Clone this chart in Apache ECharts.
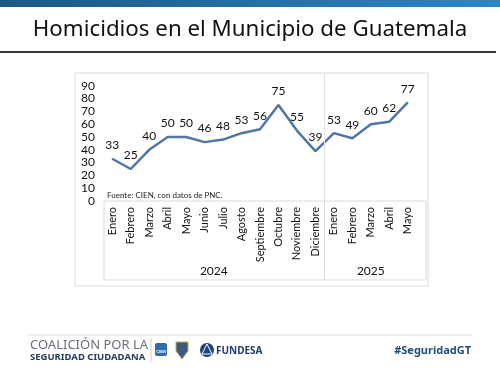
<!DOCTYPE html>
<html>
<head>
<meta charset="utf-8">
<script src="https://cdn.jsdelivr.net/npm/echarts@6/dist/echarts.min.js"></script>
<style>
  html, body { margin: 0; padding: 0; background: #fff; }
  #chart { width: 500px; height: 375px; }
</style>
</head>
<body>
<div id="chart"></div>
<script>
// datos
var months = ['Enero','Febrero','Marzo','Abril','Mayo','Junio','Julio','Agosto','Septiembre','Octubre','Noviembre','Diciembre',
              'Enero','Febrero','Marzo','Abril','Mayo'];
var homicidios = [33, 25, 40, 50, 50, 46, 48, 53, 56, 75, 55, 39,
                  53, 49, 60, 62, 77];
var years = ['2024', '2025'];
var yearCounts = [12, 5];

// centros de cada grupo de anios (en unidades de categoria)
var yearCenters = [];
var acc = 0;
yearCounts.forEach(function (n) { yearCenters.push(acc + n / 2); acc += n; });
var divIndex = yearCounts[0];

var chart = echarts.init(document.getElementById('chart'));
var font = 'Lato, "Noto Sans", sans-serif';

var option = {
  animation: false,
  backgroundColor: '#fff',
  grid: { left: 103, right: 83, top: 73, bottom: 174 },
  xAxis: [{
    type: 'category',
    data: months,
    boundaryGap: true,
    axisLine: { show: false },
    axisTick: { show: false },
    splitLine: { show: false },
    axisLabel: {
      interval: 0,
      rotate: 90,
      margin: 6,
      color: '#111',
      fontSize: 11,
      fontFamily: font
    }
  }, {
    // eje de anios (mismo rango que las categorias)
    type: 'value',
    min: 0,
    max: months.length,
    position: 'bottom',
    offset: 0,
    axisLine: { show: false },
    axisTick: {
      show: true,
      customValues: [divIndex],
      length: 79,
      lineStyle: { color: '#d9d9d9' }
    },
    splitLine: { show: false },
    axisLabel: {
      customValues: yearCenters,
      formatter: function (v) { return years[yearCenters.indexOf(v)]; },
      margin: 64,
      color: '#111',
      fontSize: 12,
      fontFamily: font
    }
  }],
  yAxis: {
    type: 'value',
    min: 0,
    max: 100,
    interval: 10,
    axisLine: { show: false },
    axisTick: { show: false },
    splitLine: { show: false },
    axisLabel: {
      showMaxLabel: false,
      margin: 8,
      color: '#111',
      fontSize: 12,
      fontFamily: font
    }
  },
  series: [{
    type: 'line',
    data: homicidios,
    xAxisIndex: 0,
    symbol: 'circle',
    symbolSize: 1,
    showSymbol: true,
    itemStyle: { color: '#4f76a6' },
    lineStyle: { color: '#4f76a6', width: 2.5 },
    label: {
      show: true,
      position: 'top',
      distance: 7,
      color: '#111',
      fontSize: 12,
      fontFamily: font
    },
    labelLayout: { hideOverlap: false }
  }, {
    // divisor entre anios
    type: 'line',
    xAxisIndex: 1,
    data: [],
    silent: true,
    markLine: {
      silent: true,
      symbol: 'none',
      label: { show: false },
      lineStyle: { color: '#e4e4e4', type: 'solid', width: 1 },
      data: [{ xAxis: divIndex }]
    }
  }],
  graphic: [
    // barra superior
    {
      type: 'rect', shape: { x: 0, y: 0, width: 500, height: 7 },
      style: {
        fill: new echarts.graphic.LinearGradient(0, 0, 1, 0, [
          { offset: 0, color: '#1b5a82' }, { offset: 1, color: '#2c85c6' }
        ])
      }
    },
    {
      type: 'text', x: 250, y: 30,
      style: {
        text: 'Homicidios en el Municipio de Guatemala',
        fill: '#111', font: '22.3px "Noto Sans", sans-serif',
        align: 'center', verticalAlign: 'middle'
      }
    },
    { type: 'line', shape: { x1: 0, y1: 52, x2: 496, y2: 52 }, style: { stroke: '#3a3a3a', lineWidth: 2 } },
    // marco del grafico
    { type: 'rect', shape: { x: 75, y: 73, width: 353, height: 213 }, style: { fill: 'none', stroke: '#d9d9d9', lineWidth: 1 }, z: -1 },
    { type: 'rect', shape: { x: 104, y: 201, width: 322, height: 79 }, style: { fill: 'none', stroke: '#d9d9d9', lineWidth: 1 }, z: -1 },
    {
      type: 'text', x: 107, y: 195,
      style: { text: 'Fuente: CIEN, con datos de PNC.', fill: '#222', font: '8px ' + font, verticalAlign: 'middle' }
    },
    // pie de pagina
    { type: 'line', shape: { x1: 28, y1: 335, x2: 472, y2: 335 }, style: { stroke: '#dddddd', lineWidth: 1 } },
    {
      type: 'text', x: 30, y: 345,
      style: { text: 'COALICIÓN POR LA', fill: '#6a6f78', font: '13px "Noto Sans", sans-serif', verticalAlign: 'middle' }
    },
    {
      type: 'text', x: 30, y: 357,
      style: { text: 'SEGURIDAD CIUDADANA', fill: '#243c5e', font: 'bold 9.5px "Noto Sans", sans-serif', verticalAlign: 'middle' }
    },
    { type: 'line', shape: { x1: 151, y1: 339, x2: 151, y2: 362 }, style: { stroke: '#cccccc', lineWidth: 1 } },
    { type: 'rect', shape: { x: 155, y: 343, width: 12, height: 13, r: 2 }, style: { fill: '#2f6ea8' } },
    { type: 'text', x: 161, y: 352, style: { text: 'CIEN', fill: '#fff', font: 'bold 4px sans-serif', align: 'center', verticalAlign: 'middle' } },
    { type: 'polygon', shape: { points: [[176, 342], [188, 342], [188, 351], [182, 359], [176, 351]] }, style: { fill: '#3b5b7e', stroke: '#c9a94a', lineWidth: 1 } },
    { type: 'circle', shape: { cx: 207, cy: 350, r: 7 }, style: { fill: '#1e4378' } },
    { type: 'polygon', shape: { points: [[202, 354], [207, 344], [212, 354]] }, style: { fill: 'none', stroke: '#fff', lineWidth: 1 } },
    {
      type: 'text', x: 216, y: 351,
      style: { text: 'FUNDESA', fill: '#1e3c6e', font: 'bold 10px "Noto Sans", sans-serif', verticalAlign: 'middle' }
    },
    {
      type: 'text', x: 471, y: 351,
      style: { text: '#SeguridadGT', fill: '#1f4d7e', font: 'bold 11px "Noto Sans", sans-serif', align: 'right', verticalAlign: 'middle' }
    }
  ]
};

chart.setOption(option);
</script>
</body>
</html>
